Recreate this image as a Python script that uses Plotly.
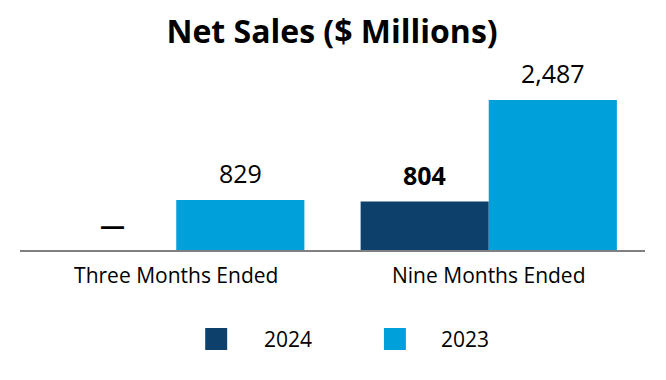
import plotly.graph_objects as go

categories = ["Three Months Ended", "Nine Months Ended"]
series_names = ["2024", "2023"]
values_2024 = [0, 804]
values_2023 = [829, 2487]
labels_2024 = ["<b>—</b>", "<b>804</b>"]
labels_2023 = ["829", "2,487"]
colors = ["#0D406A", "#00A0DA"]

# page has an 8px body margin; figure is sized/placed to compensate
OFF = 8
W, H = 666 - OFF, 380 - OFF
ml, mr, mt, mb = 19.5 - OFF, 20.5, 60 - OFF, 130
FONT = "Open Sans"

fig = go.Figure()
for name, vals, col in zip(series_names, [values_2024, values_2023], colors):
    fig.add_trace(go.Bar(x=categories, y=vals, name=name, marker_color=col,
                         marker_line_width=0, showlegend=False))

# value labels as annotations above each bar
bargap = 0.18
bw = (1 - bargap) / 2
offsets = [-bw / 2, bw / 2]
annotations = []
for s, (vals, labs) in enumerate([(values_2024, labels_2024), (values_2023, labels_2023)]):
    for i, (v, t) in enumerate(zip(vals, labs)):
        annotations.append(dict(x=i + offsets[s], y=v, xref="x", yref="y", text=t,
                                showarrow=False, yanchor="bottom",
                                yshift=(7 if v == 0 else 8),
                                font=dict(family=FONT, size=25, color="#000")))

# legend drawn manually (positions in page pixels)
pw = W - ml - mr
ph = H - mt - mb
def px2paper(x, y):
    return (x - OFF - ml) / pw, (H - mb - (y - OFF)) / ph

shapes = []
leg_sq_x = [205, 384]
leg_txt_x = [262, 439]
for name, col, sx, tx in zip(series_names, colors, leg_sq_x, leg_txt_x):
    x0, y0 = px2paper(sx, 350)
    x1, y1 = px2paper(sx + 22, 328)
    shapes.append(dict(type="rect", xref="paper", yref="paper", x0=x0, y0=y0, x1=x1, y1=y1,
                       fillcolor=col, line_width=0))
    tx0, ty0 = px2paper(tx, 339)
    annotations.append(dict(x=tx0, y=ty0, xref="paper", yref="paper", text=name, showarrow=False,
                            xanchor="left", yanchor="middle",
                            font=dict(family=FONT, size=21, color="#000")))

ymax = max(values_2023 + values_2024)
fig.update_layout(
    width=W, height=H,
    margin=dict(l=ml, r=mr, t=mt, b=mb, pad=0),
    paper_bgcolor="white", plot_bgcolor="white",
    barmode="group", bargap=bargap, bargroupgap=0,
    title=dict(text="<b>Net Sales ($ Millions)</b>", x=(332 - OFF) / W, xanchor="center",
               y=1 - (32 - OFF) / H, yanchor="middle",
               font=dict(family=FONT, size=32, color="#000")),
    xaxis=dict(showline=True, linecolor="#808080", linewidth=2, ticks="",
               showgrid=False, zeroline=False,
               tickfont=dict(family=FONT, size=21, color="#000"), ticklabelstandoff=6),
    yaxis=dict(visible=False, range=[0, ymax * ph / 150], showgrid=False, zeroline=False),
    annotations=annotations, shapes=shapes,
    font=dict(family=FONT),
)

fig.write_html("out.html")
